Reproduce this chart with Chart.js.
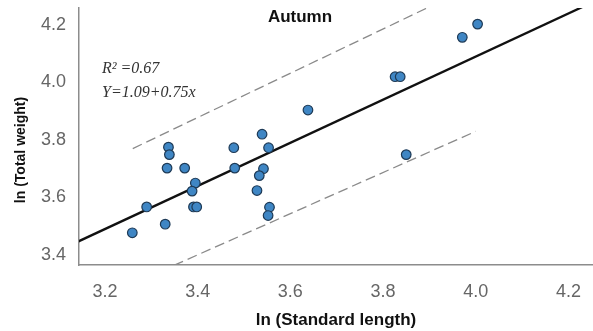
<!DOCTYPE html>
<html>
<head>
<meta charset="utf-8">
<script src="https://cdn.jsdelivr.net/npm/chart.js@4"></script>
<style>
  html, body { margin: 0; padding: 0; background: #fff; }
  #wrap { width: 593px; height: 331px; position: relative; }
</style>
</head>
<body>
<div id="wrap"><canvas id="c"></canvas></div>
<script>
// ---- data ----
const lnLength = [3.337, 3.339, 3.334, 3.372, 3.395, 3.388, 3.290, 3.391, 3.398, 3.330, 3.259,
                  3.539, 3.478, 3.553, 3.480, 3.542, 3.533, 3.528, 3.555, 3.552,
                  4.004, 3.971, 3.826, 3.837, 3.850, 3.638];
const lnWeight = [3.775, 3.749, 3.702, 3.702, 3.650, 3.622, 3.567, 3.567, 3.567, 3.507, 3.477,
                  3.820, 3.773, 3.773, 3.702, 3.700, 3.676, 3.624, 3.566, 3.537,
                  4.203, 4.157, 4.020, 4.020, 3.749, 3.904];
// regression line  Y = 1.09 + 0.75x (end points)
const fitX = [3.14, 4.25];
const fitY = [3.445, 4.2775];
// prediction band (dashed) end points
const upperX = [3.26, 4.00];
const upperY = [3.77, 4.34];
const lowerX = [3.26, 4.00];
const lowerY = [3.30, 3.83];
// ticks
const xTicks = [3.2, 3.4, 3.6, 3.8, 4.0, 4.2];
const yTicks = [3.4, 3.6, 3.8, 4.0, 4.2];
const titleText = 'Autumn';
const xTitle = 'ln (Standard length)';
const yTitle = 'ln (Total weight)';
const r2Text = 'R\u00B2 =0.67';
const eqText = 'Y=1.09+0.75x';

const zip = (xs, ys) => xs.map((x, i) => ({ x: x, y: ys[i] }));

const textPlugin = {
  id: 'texts',
  afterDraw(chart) {
    const ctx = chart.ctx;
    ctx.save();
    ctx.fillStyle = '#111';
    ctx.font = 'bold 17px "Liberation Sans", Arial, sans-serif';
    ctx.textAlign = 'center';
    ctx.textBaseline = 'middle';
    ctx.fillText(titleText, 300, 17);

    ctx.fillStyle = '#333';
    ctx.font = 'italic 16px "Liberation Serif", "Times New Roman", serif';
    ctx.textAlign = 'left';
    ctx.fillText(r2Text, 102, 69);
    ctx.fillText(eqText, 102, 93);

    ctx.fillStyle = '#111';
    ctx.font = 'bold 14px "Liberation Sans", Arial, sans-serif';
    ctx.translate(21, 150);
    ctx.rotate(-Math.PI / 2);
    ctx.textAlign = 'center';
    ctx.fillText(yTitle, 0, 0);
    ctx.restore();
  }
};

new Chart(document.getElementById('c'), {
  type: 'scatter',
  data: {
    datasets: [
      {
        label: 'upper',
        data: zip(upperX, upperY),
        showLine: true,
        borderColor: '#8a8a8a',
        borderWidth: 1.3,
        borderDash: [10, 5],
        pointRadius: 0,
        order: 3
      },
      {
        label: 'lower',
        data: zip(lowerX, lowerY),
        showLine: true,
        borderColor: '#8a8a8a',
        borderWidth: 1.3,
        borderDash: [10, 5],
        pointRadius: 0,
        order: 3
      },
      {
        label: 'fit',
        data: zip(fitX, fitY),
        showLine: true,
        borderColor: '#111',
        borderWidth: 2.3,
        pointRadius: 0,
        order: 2
      },
      {
        label: 'obs',
        data: zip(lnLength, lnWeight),
        pointRadius: 4.8,
        pointBackgroundColor: '#3f86c4',
        pointBorderColor: '#1e3a56',
        pointBorderWidth: 1.2,
        order: 1
      }
    ]
  },
  options: {
    responsive: true,
    maintainAspectRatio: false,
    animation: false,
    events: [],
    layout: { autoPadding: false, padding: { top: 8, right: 0, left: 0, bottom: 0 } },
    plugins: {
      legend: { display: false },
      tooltip: { enabled: false },
      title: { display: false }
    },
    scales: {
      x: {
        type: 'linear',
        min: 3.144,
        max: 4.253,
        afterBuildTicks: s => { s.ticks = xTicks.map(v => ({ value: v })); },
        afterFit: s => { s.height = 66; s.paddingLeft = 0; s.paddingRight = 0; },
        grid: { display: false },
        border: { display: true, color: '#8c8c8c', width: 1.5 },
        ticks: {
          includeBounds: false,
          color: '#666',
          padding: 8,
          font: { family: '"Liberation Sans", Arial, sans-serif', size: 18 },
          callback: v => Number(v).toFixed(1)
        },
        title: {
          display: true,
          text: xTitle,
          color: '#111',
          font: { family: '"Liberation Sans", Arial, sans-serif', size: 17, weight: 'bold' },
          padding: { top: 6, bottom: 0 }
        }
      },
      y: {
        type: 'linear',
        min: 3.365,
        max: 4.259,
        afterBuildTicks: s => { s.ticks = yTicks.map(v => ({ value: v })); },
        afterFit: s => { s.width = 79; s.paddingTop = 0; s.paddingBottom = 0; },
        grid: { display: false },
        border: { display: true, color: '#8c8c8c', width: 1.5 },
        ticks: {
          includeBounds: false,
          color: '#666',
          padding: 5,
          font: { family: '"Liberation Sans", Arial, sans-serif', size: 18 },
          callback: v => Number(v).toFixed(1)
        }
      }
    }
  },
  plugins: [textPlugin]
});
</script>
</body>
</html>
